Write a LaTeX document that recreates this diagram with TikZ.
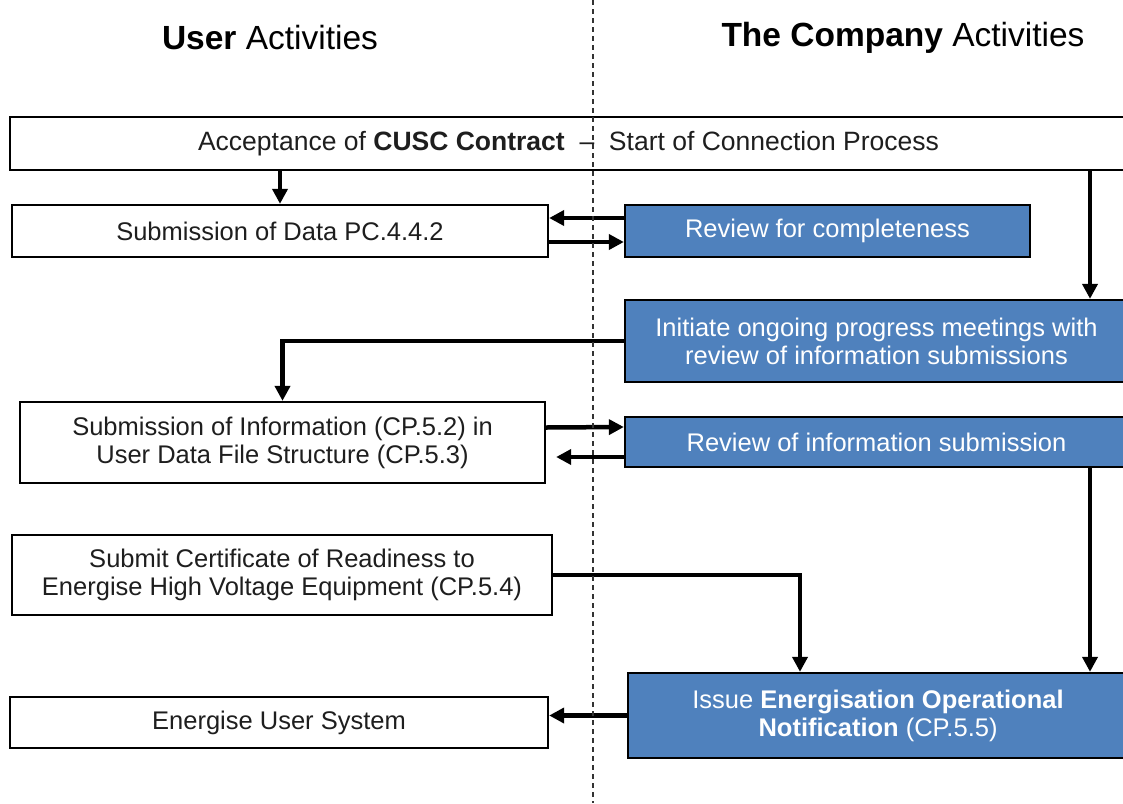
\documentclass[tikz,border=0pt]{standalone}
\usepackage{fontspec}
\setmainfont{Liberation Sans}
\usetikzlibrary{arrows.meta}
\definecolor{boxblue}{RGB}{79,129,189}
\definecolor{txt}{RGB}{30,30,30}
\begin{document}
\begin{tikzpicture}[x=1pt,y=-1pt,
  base/.style={draw=black,line width=2.3pt,align=center,inner sep=0pt,
    font=\fontsize{25.5}{28}\selectfont},
  userbox/.style={base,fill=white,text=txt},
  compbox/.style={base,fill=boxblue,text=white},
  arr/.style={line width=4.5pt,-{Triangle[length=15pt,width=15pt]}},
  hdr/.style={font=\fontsize{33.5}{38}\selectfont,text=black}]
\useasboundingbox (0,0) rectangle (1123,803);
\fill[white] (0,0) rectangle (1123,803);

\node[hdr] (h1) at (270,38) {\textbf{User} Activities};
\node[hdr] (h2) at (903,38) {\textbf{The Company} Activities};

\node[userbox,minimum width=1117pt,minimum height=53pt,
  font=\fontsize{26.5}{30}\selectfont] (top) at (568.5,143.5)
  {Acceptance of \textbf{CUSC Contract} \;–\; Start of Connection Process};
\node[userbox,minimum width=536pt,minimum height=52pt] (sub1) at (280,231)
  {Submission of Data PC.4.4.2};
\node[compbox,minimum width=405pt,minimum height=52pt] (rev1) at (827.5,231)
  {Review for completeness};
\node[compbox,minimum width=503pt,minimum height=82pt] (init) at (876.5,341)
  {Initiate ongoing progress meetings with\\review of information submissions};
\node[userbox,minimum width=525pt,minimum height=81pt] (sub2) at (282.5,442.5)
  {Submission of Information (CP.5.2) in\\User Data File Structure (CP.5.3)};
\node[compbox,minimum width=503pt,minimum height=50pt] (rev2) at (876.5,442)
  {Review of information submission};
\node[userbox,minimum width=540pt,minimum height=80pt] (cert) at (282,575)
  {Submit Certificate of Readiness to\\Energise High Voltage Equipment (CP.5.4)};
\node[compbox,minimum width=500pt,minimum height=85pt] (issue) at (878,715.5)
  {Issue \textbf{Energisation Operational}\\\textbf{Notification} (CP.5.5)};
\node[userbox,minimum width=538pt,minimum height=51pt] (energ) at (279,722.5)
  {Energise User System};

\coordinate (cr) at (1090,0);
\coordinate (cm) at (800,0);

\draw[arr] (sub1.north |- top.south) -- (sub1.north);
\draw[arr] ([yshift=13pt]rev1.west) -- ([yshift=13pt]sub1.east);
\draw[arr] ([yshift=-11pt]sub1.east) -- ([yshift=-11pt]rev1.west);
\draw[arr] (cr |- top.south) -- (cr |- init.north);
\draw[arr] (init.west) -- (sub2.north |- init.west) -- (sub2.north);
\draw[arr] ([yshift=15pt]sub2.east) -- ([yshift=15pt]rev2.west);
\draw[arr,shorten >=10pt] ([yshift=-15pt]rev2.west) -- ([yshift=-15pt]rev2.west -| sub2.east);
\draw[arr] (cert.east) -- (cm |- cert.east) -- (cm |- issue.north);
\draw[arr] (cr |- rev2.south) -- (cr |- issue.north);
\draw[arr] (issue.west) -- (issue.west -| energ.east);

\coordinate (d1) at (593,0);
\coordinate (d2) at (593,803);
\draw[line width=1.3pt,dash pattern=on 5pt off 4pt,black!80] (d1) -- (d2);
\end{tikzpicture}
\end{document}
